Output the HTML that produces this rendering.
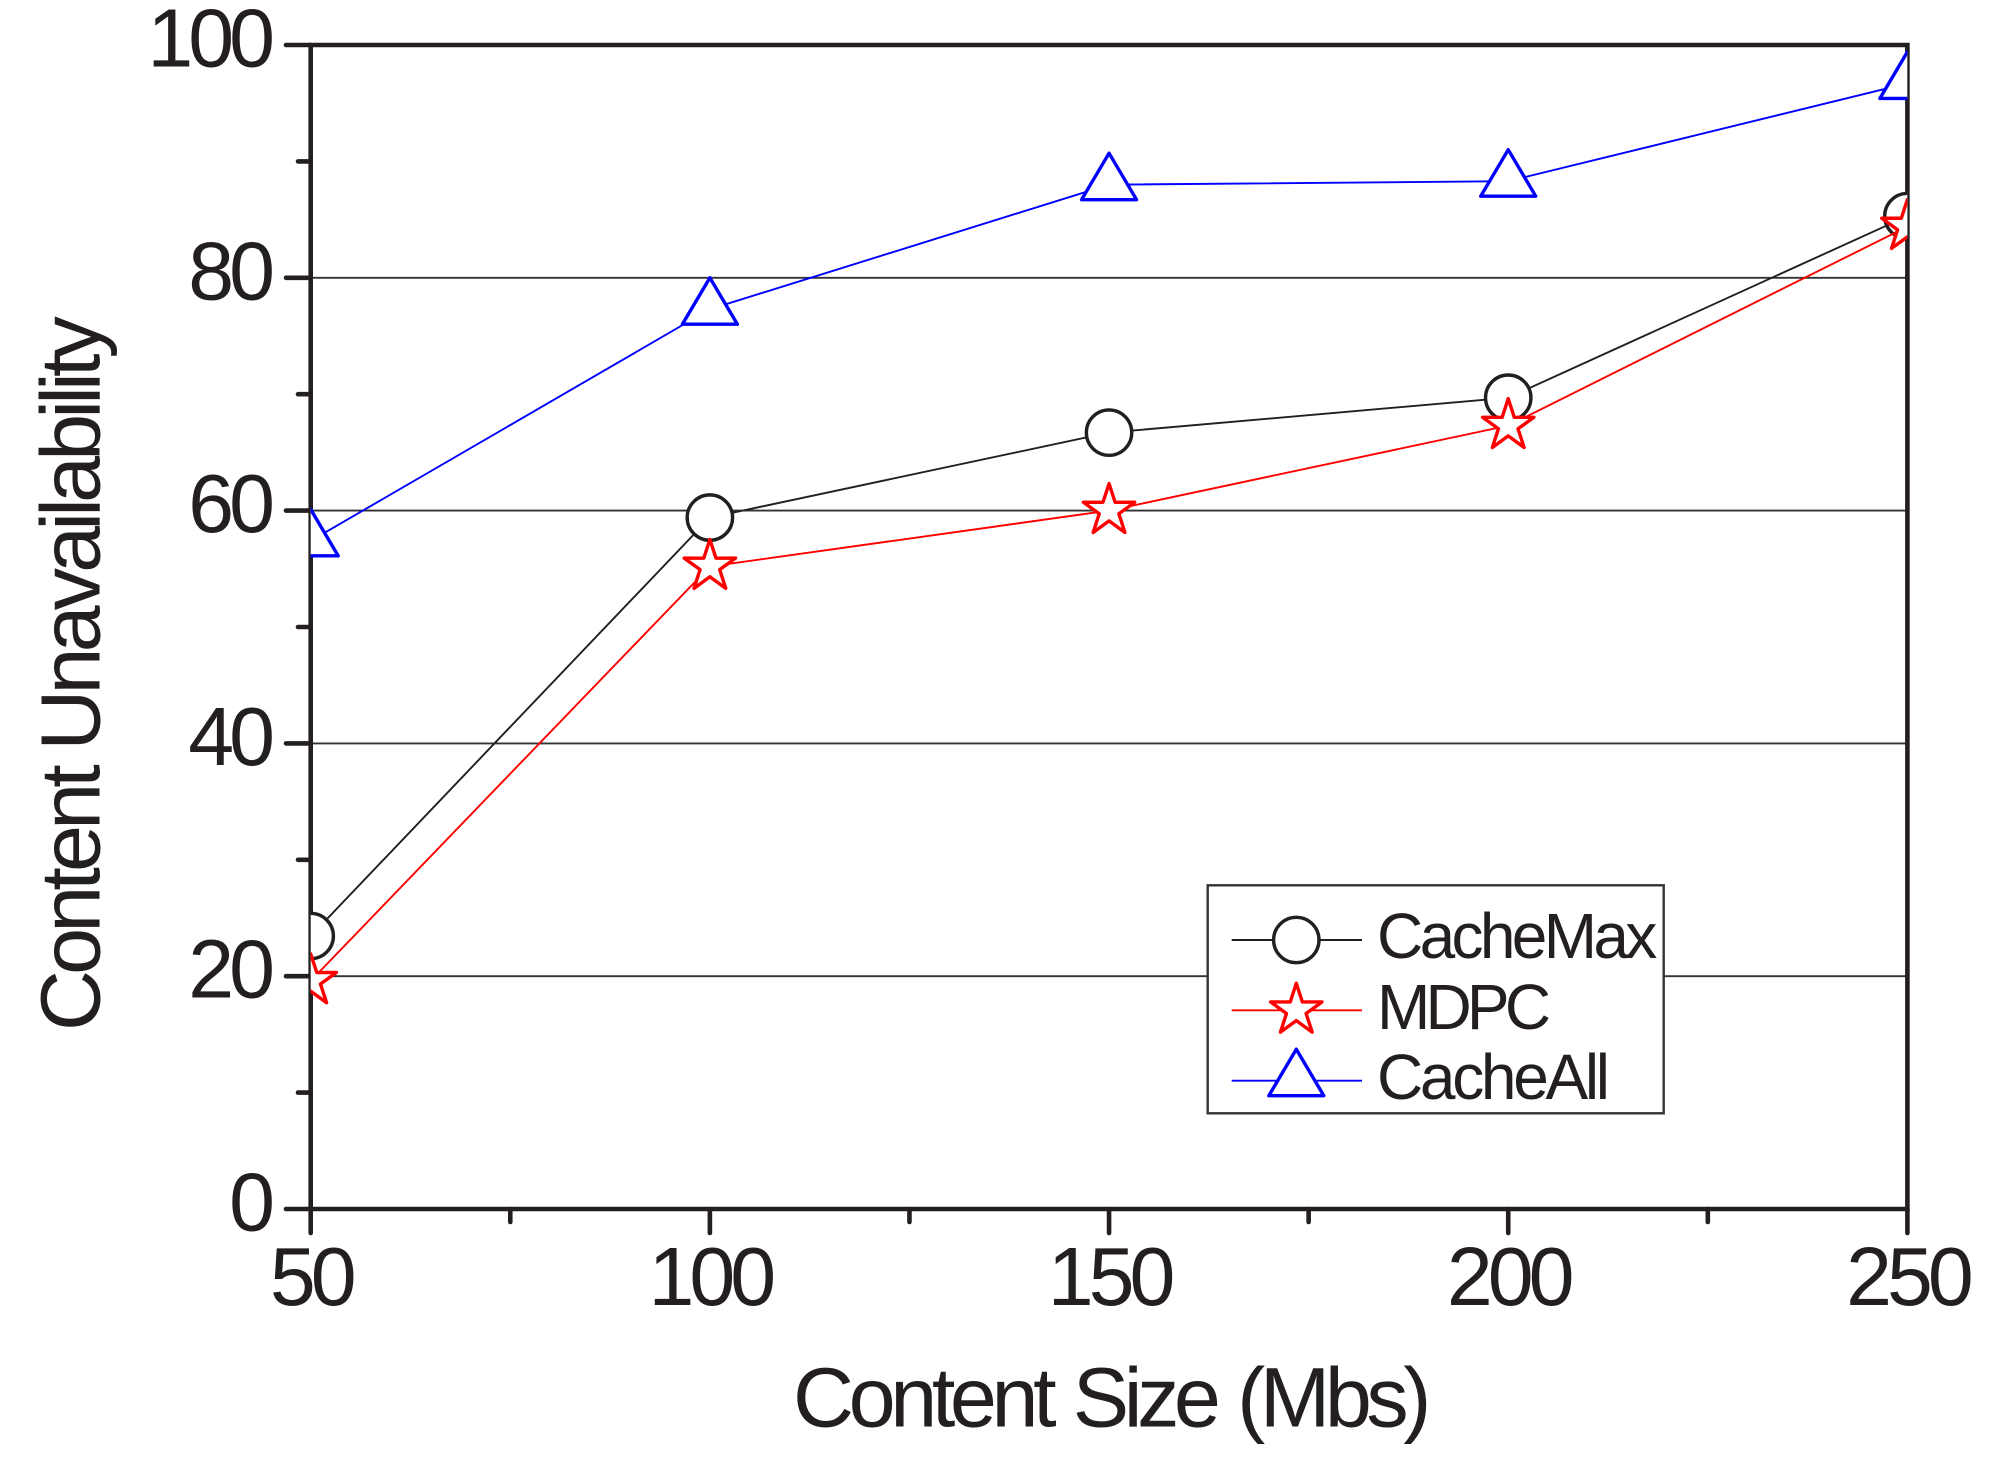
<!DOCTYPE html>
<html lang="en">
<head>
<meta charset="utf-8">
<title>Content Unavailability vs Content Size</title>
<style>
html,body{margin:0;padding:0;background:#fff;width:2004px;height:1471px;overflow:hidden}
svg{display:block}
text{font-family:"Liberation Sans",Arial,sans-serif;fill:#231f20}
.tick-label{font-size:82.5px;letter-spacing:-5px}
.axis-title{font-size:84.5px;letter-spacing:-5px}
.x-title{letter-spacing:-5.4px;word-spacing:3.5px}
.y-title{letter-spacing:-4.88px}
.legend-label{font-size:64px;letter-spacing:-4px}
</style>
</head>
<body>
<svg id="chart" xmlns="http://www.w3.org/2000/svg" width="2004" height="1471" viewBox="0 0 2004 1471">
  <defs>
    <clipPath id="plot-clip"><rect x="310.7" y="43" width="1596.6" height="1168"></rect></clipPath>
  </defs>
  <g id="grid"></g>
  <g id="axes"></g>
  <g id="series" clip-path="url(#plot-clip)"></g>
  <text class="axis-title x-title" x="793" y="1426.5">Content Size (Mbs)</text>
  <text class="axis-title y-title" transform="translate(99.3 1031) rotate(-90)">Content Unavailability</text>
  <g id="legend">
    <rect x="1207.7" y="885.3" width="456" height="228" fill="#fff" stroke="#333" stroke-width="2.4"></rect>
    <g>
      <line x1="1231.7" x2="1362" y1="940" y2="940" stroke="#231f20" stroke-width="1.9"></line>
      <circle cx="1296.3" cy="940" r="22.7" fill="#fff" stroke="#231f20" stroke-width="3.4"></circle>
      <text class="legend-label" style="letter-spacing:-3.65px" x="1377" y="958">CacheMax</text>
    </g>
    <g>
      <line x1="1231.7" x2="1362" y1="1010.3" y2="1010.3" stroke="#f00" stroke-width="1.9"></line>
      <polygon id="legend-star" fill="#fff" stroke="#f00" stroke-width="3.4" stroke-linejoin="round"></polygon>
      <text class="legend-label" style="letter-spacing:-4.8px" x="1377" y="1029">MDPC</text>
    </g>
    <g>
      <line x1="1231.7" x2="1362" y1="1080.7" y2="1080.7" stroke="#00f" stroke-width="1.9"></line>
      <polygon id="legend-triangle" fill="#fff" stroke="#00f" stroke-width="3.4" stroke-linejoin="round"></polygon>
      <text class="legend-label" style="letter-spacing:-3.3px" x="1377" y="1099">CacheAll</text>
    </g>
  </g>
</svg>
<script>
const categories = [50, 100, 150, 200, 250];
const cacheMaxValues = [23.45, 59.4, 66.7, 69.7, 85.3];
const mdpcValues = [19.6, 55.2, 60.0, 67.3, 84.4];
const cacheAllValues = [57.4, 77.3, 88.0, 88.3, 96.7];
const xMajorTicks = [50, 100, 150, 200, 250];
const xMinorTicks = [75, 125, 175, 225];
const yMajorTicks = [0, 20, 40, 60, 80, 100];
const yMinorTicks = [10, 30, 50, 70, 90];
const yGridValues = [20, 40, 60, 80];
const xTickLabels = ['50', '100', '150', '200', '250'];
const yTickLabels = ['0', '20', '40', '60', '80', '100'];

const NS = 'http://www.w3.org/2000/svg';
const INK = '#231f20';
const plot = {left: 310.7, right: 1907.4, top: 45, bottom: 1209};
function xScale(v) { return plot.left + (v - 50) / 200 * (plot.right - plot.left); }
function yScale(v) { return plot.bottom - v / 100 * (plot.bottom - plot.top); }
function make(tag, props, parent) {
  const el = document.createElementNS(NS, tag);
  for (const key in props) { el.setAttribute(key, props[key]); }
  parent.appendChild(el);
  return el;
}
function starPoints(cx, cy) {
  const pts = [];
  for (let i = 0; i < 10; i++) {
    const r = i % 2 ? 10.3 : 27;
    const a = -Math.PI / 2 + i * Math.PI / 5;
    pts.push((cx + r * Math.cos(a)).toFixed(2) + ',' + (cy + r * Math.sin(a)).toFixed(2));
  }
  return pts.join(' ');
}
function trianglePoints(cx, cy) {
  return [[cx, cy - 31.5], [cx + 27.5, cy + 15], [cx - 27.5, cy + 15]]
    .map(function (p) { return p[0].toFixed(2) + ',' + p[1].toFixed(2); }).join(' ');
}

const grid = document.getElementById('grid');
const axes = document.getElementById('axes');
const seriesLayer = document.getElementById('series');

yGridValues.forEach(function (v) {
  const gridLine = make('line', {x1: plot.left, x2: plot.right, y1: yScale(v), y2: yScale(v), stroke: '#333', 'stroke-width': 1.9}, grid);
  
  
});

const axisFrame = make('path', {
  d: 'M' + plot.left + ' ' + plot.top + 'V' + plot.bottom + 'H' + plot.right + 'V' + plot.top + 'Z',
  fill: 'none', stroke: INK, 'stroke-width': 4.6
}, axes);



yMajorTicks.forEach(function (v, i) {
  const tick = make('line', {x1: 286, x2: plot.left, y1: yScale(v), y2: yScale(v), stroke: INK, 'stroke-width': 4.6, 'stroke-linecap': 'round'}, axes);
  
  
  const label = make('text', {class: 'tick-label', x: 270, y: yScale(v) + 21.5, 'text-anchor': 'end'}, axes);
  label.textContent = yTickLabels[i];
  
  
});
yMinorTicks.forEach(function (v) {
  const tick = make('line', {x1: 298, x2: plot.left, y1: yScale(v), y2: yScale(v), stroke: INK, 'stroke-width': 4.6, 'stroke-linecap': 'round'}, axes);
  
  
});
xMajorTicks.forEach(function (v, i) {
  const tick = make('line', {x1: xScale(v), x2: xScale(v), y1: plot.bottom, y2: 1233, stroke: INK, 'stroke-width': 4.6, 'stroke-linecap': 'round'}, axes);
  
  
  const label = make('text', {class: 'tick-label', x: xScale(v), y: 1305, 'text-anchor': 'middle'}, axes);
  label.textContent = xTickLabels[i];
  
  
});
xMinorTicks.forEach(function (v) {
  const tick = make('line', {x1: xScale(v), x2: xScale(v), y1: plot.bottom, y2: 1222, stroke: INK, 'stroke-width': 4.6, 'stroke-linecap': 'round'}, axes);
  
  
});

function linePoints(values) {
  return values.map(function (v, i) { return xScale(categories[i]).toFixed(2) + ',' + yScale(v).toFixed(2); }).join(' ');
}

const cacheMaxLine = make('polyline', {points: linePoints(cacheMaxValues), fill: 'none', stroke: INK, 'stroke-width': 1.9}, seriesLayer);


cacheMaxValues.forEach(function (v, i) {
  const mark = make('circle', {cx: xScale(categories[i]), cy: yScale(v), r: 22.7, fill: '#fff', stroke: INK, 'stroke-width': 3.4}, seriesLayer);
  
  
});

const mdpcLine = make('polyline', {points: linePoints(mdpcValues), fill: 'none', stroke: '#f00', 'stroke-width': 1.9}, seriesLayer);


mdpcValues.forEach(function (v, i) {
  const mark = make('polygon', {points: starPoints(xScale(categories[i]), yScale(v)), fill: '#fff', stroke: '#f00', 'stroke-width': 3.4, 'stroke-linejoin': 'round'}, seriesLayer);
  
  
});

const cacheAllLine = make('polyline', {points: linePoints(cacheAllValues), fill: 'none', stroke: '#00f', 'stroke-width': 1.9}, seriesLayer);


cacheAllValues.forEach(function (v, i) {
  const mark = make('polygon', {points: trianglePoints(xScale(categories[i]), yScale(v)), fill: '#fff', stroke: '#00f', 'stroke-width': 3.4, 'stroke-linejoin': 'round'}, seriesLayer);
  
  
});

const legendStar = document.getElementById('legend-star');
legendStar.setAttribute('points', starPoints(1296.3, 1010.3));


const legendTriangle = document.getElementById('legend-triangle');
legendTriangle.setAttribute('points', trianglePoints(1296.3, 1080.7));


</script>
</body>
</html>
